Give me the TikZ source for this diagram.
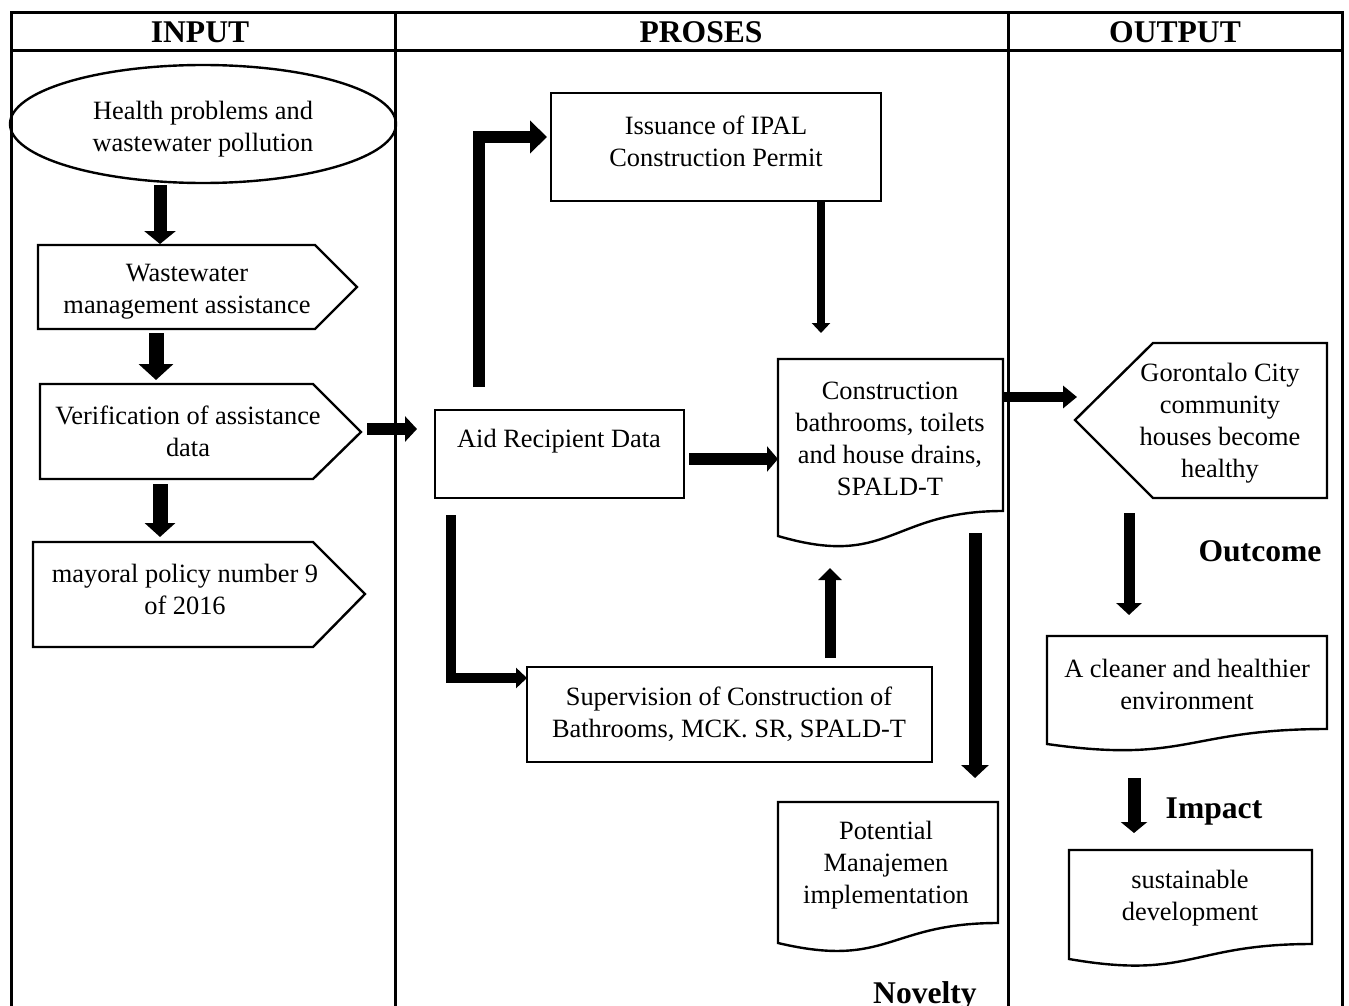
\documentclass[tikz,border=0pt]{standalone}
\usepackage{fontspec}
\setmainfont{Liberation Serif}
\usetikzlibrary{arrows.meta}
\begin{document}
\begin{tikzpicture}[x=0.5pt,y=-0.5pt,
  frame/.style={line width=1.5pt, line join=miter},
  shp/.style={draw, line width=1.2pt, line join=miter},
  txt/.style={align=center, font=\fontsize{13.2}{16}\selectfont, inner sep=0pt},
  hdr/.style={font=\fontsize{15.8}{18}\selectfont\bfseries, inner sep=0pt, anchor=base},
  blk/.style n args={3}{line width=#1, -{Triangle[width=#2,length=#3]}, line join=miter},
]
\useasboundingbox (0,0) rectangle (1349,1006);
% table frame
\draw[frame] (11,1008) -- (11,13) -- (1342,13) -- (1342,1008);
\draw[frame] (11,51) -- (1342,51);
\draw[frame] (395,13) -- (395,1008);
\draw[frame] (1008,13) -- (1008,1008);
\node[hdr] (hin) at (200,43) {INPUT};
\node[hdr] (hpr) at (701,43) {PROSES};
\node[hdr] (hout) at (1175,43) {OUTPUT};

% INPUT column shapes
\draw[line width=1.2pt] (203,124) ellipse [x radius=193, y radius=59];
\node[txt] (ell) at (203,129) {Health problems and\\wastewater pollution};
\draw[shp] (38,245) -- (315,245) -- (357,287) -- (315,329) -- (38,329) -- cycle;
\node[txt] (wst) at (187,292) {Wastewater\\management assistance};
\draw[shp] (40,384) -- (313,384) -- (361,432) -- (313,479) -- (40,479) -- cycle;
\node[txt] (ver) at (188,431) {Verification of assistance\\data};
\draw[shp] (33,542) -- (313,542) -- (365,594) -- (313,647) -- (33,647) -- cycle;
\node[txt] (may) at (185,589) {mayoral policy number 9\\of 2016};

% PROSES column shapes
\draw[shp] (551,93) rectangle (881,201);
\node[txt] (iss) at (716,141) {Issuance of IPAL\\Construction Permit};
\draw[shp] (435,410) rectangle (684,498);
\node[txt] (aid) at (559,441) {Aid Recipient Data};
\draw[shp] (778,359) -- (1003,359) -- (1003,511) .. controls (890,511) and (890,569) .. (778,536) -- cycle;
\node[txt] (con) at (890,439) {Construction\\bathrooms, toilets\\and house drains,\\SPALD-T};
\draw[shp] (527,667) rectangle (932,762);
\node[txt] (sup) at (729,714) {Supervision of Construction of\\Bathrooms, MCK. SR, SPALD-T};
\draw[shp] (778,802) -- (998,802) -- (998,923) .. controls (888,923) and (888,969) .. (778,943) -- cycle;
\node[txt] (pot) at (886,865) {Potential\\Manajemen\\implementation};
\node[hdr] (nov) at (925,1003) {Novelty};

% OUTPUT column shapes
\draw[shp] (1075,420) -- (1153,343) -- (1327,343) -- (1327,498) -- (1153,498) -- cycle;
\node[txt] (gor) at (1220,423) {Gorontalo City\\community\\houses become\\healthy};
\node[hdr] (outc) at (1260,561) {Outcome};
\draw[shp] (1047,636) -- (1327,636) -- (1327,729) .. controls (1187,729) and (1187,764) .. (1047,744) -- cycle;
\node[txt] (cln) at (1187,684) {A cleaner and healthier\\environment};
\node[hdr] (imp) at (1214,818) {Impact};
\draw[shp] (1069,850) -- (1312,850) -- (1312,944) .. controls (1190,944) and (1190,980) .. (1069,959) -- cycle;
\node[txt] (sus) at (1190,898) {sustainable\\development};

% connector end points
\coordinate (ell-s) at (160,185);  \coordinate (wst-n) at (160,244);
\coordinate (wst-s) at (156,333);  \coordinate (ver-n) at (156,380);
\coordinate (ver-s) at (160,484);  \coordinate (may-n) at (160,537);
\coordinate (ver-e) at (367,429);  \coordinate (aid-w) at (417,429);
\coordinate (aid-n) at (479,387);  \coordinate (iss-w) at (547,137);
\coordinate (iss-s) at (821,201);  \coordinate (con-n) at (821,333);
\coordinate (aid-e) at (689,459);  \coordinate (con-w) at (778,459);
\coordinate (aid-s) at (451,515);  \coordinate (sup-w) at (527,678);
\coordinate (sup-n) at (830,658);  \coordinate (con-s) at (830,568);
\coordinate (con-s2) at (975,533); \coordinate (pot-n) at (975,778);
\coordinate (con-e) at (1003,397); \coordinate (gor-w) at (1077,397);
\coordinate (gor-s) at (1129,513); \coordinate (cln-n) at (1129,615);
\coordinate (cln-s) at (1134,778); \coordinate (sus-n) at (1134,833);

% connectors
\draw[blk={6.5pt}{15.5pt}{6.5pt}] (ell-s) -- (wst-n);
\draw[blk={7.5pt}{17pt}{8pt}] (wst-s) -- (ver-n);
\draw[blk={7.5pt}{15pt}{7pt}] (ver-s) -- (may-n);
\draw[blk={6pt}{12.5pt}{6pt}] (ver-e) -- (aid-w);
\draw[blk={6pt}{16pt}{8.5pt}] (aid-n) |- (iss-w);
\draw[blk={4pt}{9pt}{5pt}] (iss-s) -- (con-n);
\draw[blk={6pt}{12.5pt}{5.5pt}] (aid-e) -- (con-w);
\draw[blk={5pt}{10pt}{5.5pt}] (aid-s) |- (sup-w);
\draw[blk={5.5pt}{11.5pt}{6pt}] (sup-n) -- (con-s);
\draw[blk={6.5pt}{13.5pt}{6.5pt}] (con-s2) -- (pot-n);
\draw[blk={5pt}{11pt}{7pt}] (con-e) -- (gor-w);
\draw[blk={5.5pt}{12.5pt}{6pt}] (gor-s) -- (cln-n);
\draw[blk={6.5pt}{13pt}{5.5pt}] (cln-s) -- (sus-n);
\end{tikzpicture}
\end{document}
